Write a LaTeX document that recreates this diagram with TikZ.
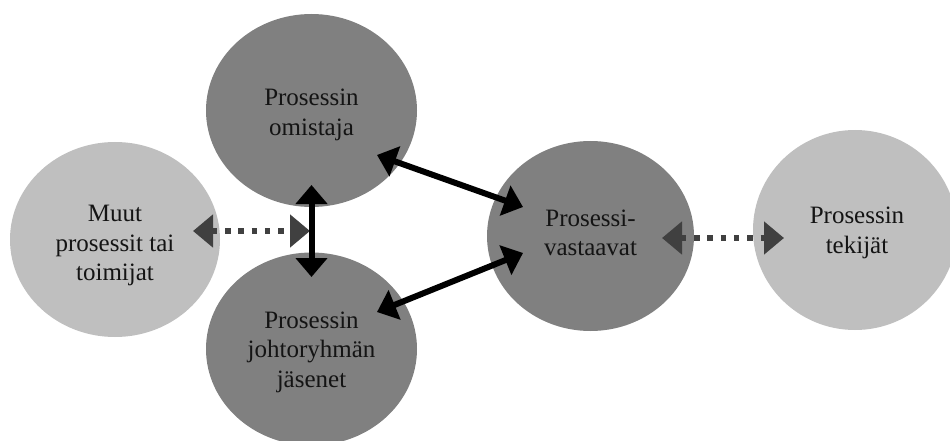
\documentclass[tikz,border=0pt]{standalone}
\usepackage{fontspec}
\setmainfont{Liberation Serif}
\usetikzlibrary{arrows.meta,shapes.geometric}
\definecolor{darkc}{HTML}{808080}
\definecolor{lightc}{HTML}{BFBFBF}
\definecolor{dotc}{HTML}{404040}
\begin{document}
\begin{tikzpicture}[x=1pt,y=-1pt,
  bubble/.style={ellipse, inner sep=0pt, draw=none},
  darkb/.style={bubble, fill=darkc},
  lightb/.style={bubble, fill=lightc},
  txt/.style={align=center, inner sep=0pt, font=\fontsize{25}{29.5}\selectfont, text=black!92},
  solidarrow/.style={line width=6pt, black, {Triangle[width=31pt,length=19pt]}-{Triangle[width=31pt,length=19pt]}},
  dotarrow/.style={line width=5.5pt, dotc, dash pattern=on 5.5pt off 7.8pt,
    {Triangle[width=32pt,length=20pt]}-{Triangle[width=32pt,length=20pt]}}]
\useasboundingbox (0,0) rectangle (950,441);
% circles
\node[lightb, minimum width=210pt, minimum height=195pt] (muut) at (115,239.5) {};
\node[darkb, minimum width=211pt, minimum height=193pt] (omistaja) at (311.5,110.5) {};
\node[darkb, minimum width=211pt, minimum height=193pt] (johto) at (311.5,349) {};
\node[darkb, minimum width=207pt, minimum height=190pt] (vast) at (590.5,236) {};
\node[lightb, minimum width=204pt, minimum height=200pt] (tekijat) at (855,230) {};
% texts
\node[txt] (muutT) at (115,245.5) {Muut\\prosessit tai\\toimijat};
\node[txt] (omistajaT) at (311.5,115) {Prosessin\\omistaja};
\node[txt] (johtoT) at (311.5,352) {Prosessin\\johtoryhmän\\jäsenet};
\node[txt] (vastT) at (590.5,233) {Prosessi-\\vastaavat};
\node[txt] (tekijatT) at (857,233) {Prosessin\\tekijät};
% connector end points
\coordinate (mR) at (193,231);
\coordinate (mL) at (310,231);
\coordinate (vR) at (662,238);
\coordinate (tL) at (784,238);
\coordinate (oB) at (311.5,185);
\coordinate (jT) at (311.5,277);
\coordinate (oA) at (377,155);
\coordinate (vA) at (523,207);
\coordinate (jA) at (377,312);
\coordinate (vB) at (523,253);
% dotted arrows
\draw[dotarrow] (mR) -- (mL);
\draw[dotarrow] (vR) -- (tL);
% solid arrows
\draw[solidarrow] (oB) -- (jT);
\draw[solidarrow] (oA) -- (vA);
\draw[solidarrow] (jA) -- (vB);
\end{tikzpicture}
\end{document}
